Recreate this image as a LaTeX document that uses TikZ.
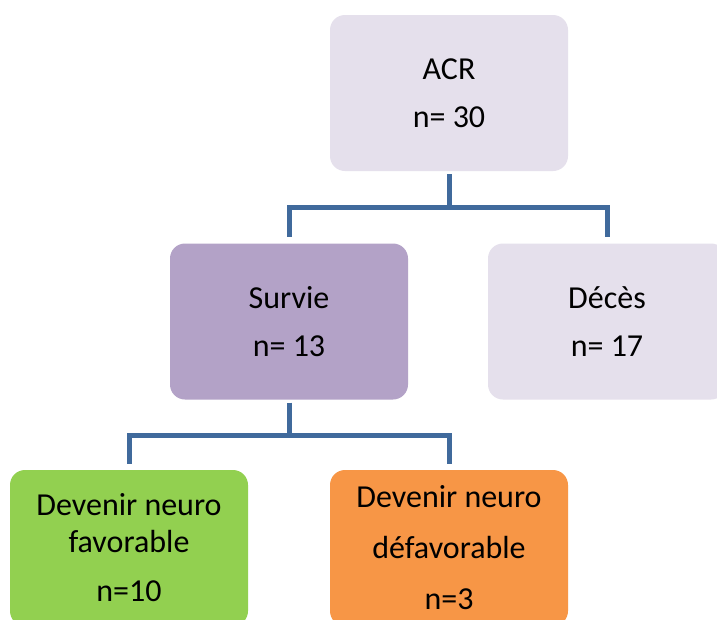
\documentclass[tikz,border=0pt]{standalone}
\usepackage{fontspec}
\setmainfont{Carlito}
\usepackage{tikz}
\tikzstyle{chart} = [x = 1pt, y = -1pt]
\definecolor{paleLilac}{RGB}{229,224,236}
\definecolor{lilac}{RGB}{179,162,199}
\definecolor{leafGreen}{RGB}{146,208,80}
\definecolor{tangerine}{RGB}{247,150,70}
\definecolor{linkColor}{RGB}{64,106,156}
\tikzstyle{boxStyle} = [rounded corners = 15pt, minimum width = 238pt, minimum height = 156pt, inner sep = 0pt, align = center, font = \fontsize{32}{48}\selectfont]
\tikzstyle{linkStyle} = [color = linkColor, line width = 5pt]
\newcommand{\gap}{3pt}
\newcommand{\drop}{6pt}

\begin{document}
\begin{tikzpicture}[chart]
          \useasboundingbox (0,0) rectangle (717,619);
          \clip (0,0) rectangle (717,619);
          \fill [white] (0,0) rectangle (717,619);

          % first level
          \node [boxStyle, fill = paleLilac] (acr) at (449,93) {ACR\\n= 30};
          \node [boxStyle, fill = lilac] (survie) at (289,321.5) {Survie\\n= 13};
          \node [boxStyle, fill = paleLilac] (deces) at (607,321.5) {Décès\\n= 17};

          % second level
          \node [boxStyle, fill = leafGreen, font = \fontsize{32}{37}\selectfont] (favorable) at (129,548) {Devenir neuro\\favorable\\[12pt]n=10};
          \node [boxStyle, fill = tangerine, font = \fontsize{32}{51}\selectfont] (defavorable) at (449,548) {Devenir neuro\\défavorable\\n=3};

          \coordinate (splitTop) at (449,207);
          \coordinate (splitBottom) at (289,435);

          \draw [linkStyle, shorten < = \gap] (acr.south) -- (splitTop);
          \draw [linkStyle, shorten > = \drop] (splitTop) -| (survie.north);
          \draw [linkStyle, shorten > = \drop] (splitTop) -| (deces.north);

          \draw [linkStyle, shorten < = \gap] (survie.south) -- (splitBottom);
          \draw [linkStyle, shorten > = \drop] (splitBottom) -| (favorable.north);
          \draw [linkStyle, shorten > = \drop] (splitBottom) -| (defavorable.north);
        \end{tikzpicture}
\end{document}
